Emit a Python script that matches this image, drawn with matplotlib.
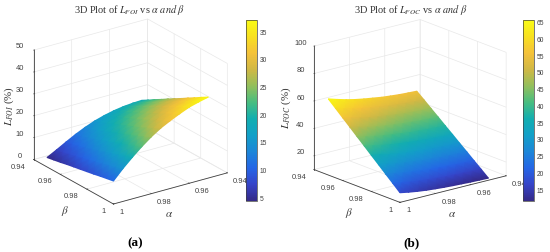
import matplotlib
matplotlib.use('Agg')
import matplotlib.pyplot as plt
import numpy as np
from matplotlib.colors import LinearSegmentedColormap
from matplotlib.cm import ScalarMappable
from matplotlib.colors import Normalize
from mpl_toolkits.mplot3d import proj3d

plt.rcParams['font.family'] = 'Liberation Sans'
plt.rcParams['mathtext.fontset'] = 'stix'

alpha = [1.0, 0.995, 0.99, 0.985, 0.98, 0.975, 0.97, 0.965, 0.96, 0.955, 0.95]
beta = [0.95, 0.955, 0.96, 0.965, 0.97, 0.975, 0.98, 0.985, 0.99, 0.995, 1.0]

# rows are beta, columns are alpha
l_foi = [
    [4.3, 6.6, 9.0, 11.3, 13.3, 15.0, 16.3, 17.3, 18.0, 18.4, 18.6],
    [4.9, 7.4, 9.9, 12.3, 14.5, 16.3, 17.7, 18.8, 19.7, 20.2, 20.4],
    [5.5, 8.2, 10.8, 13.4, 15.7, 17.6, 19.1, 20.4, 21.4, 22.0, 22.3],
    [6.2, 9.0, 11.8, 14.5, 17.0, 19.0, 20.6, 22.0, 23.1, 23.8, 24.1],
    [6.8, 9.9, 12.8, 15.6, 18.2, 20.3, 22.1, 23.5, 24.8, 25.5, 26.0],
    [7.4, 10.7, 13.8, 16.8, 19.4, 21.7, 23.5, 25.1, 26.5, 27.3, 27.8],
    [8.0, 11.6, 14.9, 18.0, 20.7, 23.0, 25.0, 26.7, 28.1, 29.0, 29.6],
    [8.6, 12.4, 15.9, 19.1, 22.0, 24.4, 26.5, 28.3, 29.8, 30.8, 31.5],
    [9.3, 13.3, 16.9, 20.3, 23.2, 25.8, 28.0, 29.9, 31.5, 32.5, 33.3],
    [9.9, 14.1, 18.0, 21.5, 24.6, 27.3, 29.5, 31.4, 33.2, 34.3, 35.2],
    [10.5, 15.0, 19.0, 22.7, 26.0, 28.8, 31.0, 33.0, 34.8, 36.0, 37.0],
]
l_foc = [
    [65.5, 63.5, 61.7, 60.2, 59.0, 58.0, 57.0, 56.3, 55.7, 55.3, 55.0],
    [60.7, 58.7, 57.0, 55.6, 54.4, 53.5, 52.6, 51.9, 51.3, 50.9, 50.7],
    [55.8, 54.0, 52.3, 51.0, 49.9, 49.0, 48.1, 47.5, 46.9, 46.6, 46.3],
    [51.0, 49.2, 47.6, 46.3, 45.3, 44.5, 43.7, 43.1, 42.6, 42.2, 42.0],
    [46.1, 44.4, 42.9, 41.7, 40.8, 40.0, 39.2, 38.7, 38.2, 37.9, 37.6],
    [41.3, 39.7, 38.3, 37.1, 36.2, 35.5, 34.8, 34.3, 33.8, 33.5, 33.3],
    [36.4, 34.9, 33.6, 32.5, 31.6, 30.9, 30.3, 29.8, 29.4, 29.1, 28.9],
    [31.6, 30.1, 28.9, 27.9, 27.1, 26.4, 25.9, 25.4, 25.0, 24.8, 24.6],
    [26.7, 25.3, 24.2, 23.2, 22.5, 21.9, 21.4, 21.0, 20.7, 20.4, 20.2],
    [21.9, 20.6, 19.5, 18.6, 18.0, 17.4, 17.0, 16.6, 16.3, 16.1, 15.9],
    [17.0, 15.8, 14.8, 14.0, 13.4, 12.9, 12.5, 12.2, 11.9, 11.7, 11.5],
]

xy_ticks = [0.94, 0.96, 0.98, 1]
xy_labels = ['0.94', '0.96', '0.98', '1']

parula = LinearSegmentedColormap.from_list('parula', [
    '#352a87', '#3644c8', '#2566e6', '#1c86d8', '#12a0c8', '#12aeb0',
    '#48bd80', '#93bf5c', '#d0b845', '#f5c23a', '#f8e020', '#f9fb15'])

W, H = 550, 253
GRAY = '#404040'
fig = plt.figure(figsize=(W / 100, H / 100), dpi=100)


def panel(z, rect, elev, azim, aspect, zlim, zticks, cb_rect, cb_ticks):
    ax = fig.add_axes(rect, projection='3d', proj_type='ortho')
    ax.patch.set_alpha(0)
    X, Y = np.meshgrid(alpha, beta)
    z = np.array(z)
    norm = Normalize(z.min(), z.max())
    ax.view_init(elev=elev, azim=azim)
    ax.set_box_aspect((1, 1, aspect), zoom=1.0)
    ax.set_xlim(0.94, 1)
    ax.set_ylim(0.94, 1)
    ax.set_zlim(*zlim)
    ax.set_xticks(xy_ticks, xy_labels)
    ax.set_yticks(xy_ticks, xy_labels)
    ax.set_zticks(zticks)
    for a in (ax.xaxis, ax.yaxis, ax.zaxis):
        a.set_pane_color((1, 1, 1, 0))
        a.pane.set_edgecolor('#e4e4e4')
        a.line.set_color(GRAY)
        a.line.set_linewidth(0.6)
        a._axinfo['grid']['color'] = '#e8e8e8'
        a._axinfo['grid']['linewidth'] = 0.5
        a._axinfo['tick']['inward_factor'] = 0.0
        a._axinfo['tick']['outward_factor'] = 0.1
        a._axinfo['tick']['linewidth'] = {True: 0.5, False: 0.5}
    ax.tick_params(labelsize=5.4, labelcolor=GRAY, color=GRAY, pad=-2)
    ax.zaxis.set_ticks_position('lower')
    for t in ax.yaxis.get_ticklabels():
        t.set_ha('right')
        t.set_va('bottom')
    for t in ax.xaxis.get_ticklabels():
        t.set_ha('left')
        t.set_va('bottom')
    for t in ax.zaxis.get_ticklabels():
        t.set_va('bottom')

    # mplot3d has no smooth shading, so project the table and let a gouraud mesh shade it
    px, py, _ = proj3d.proj_transform(X.ravel(), Y.ravel(), z.ravel(), ax.get_proj())
    over = fig.add_axes(rect, zorder=3)
    over.axis('off')
    over.pcolormesh(px.reshape(X.shape), py.reshape(X.shape), z, shading='gouraud',
                    cmap=parula, norm=norm, transform=ax.transData)

    cax = fig.add_axes(cb_rect)
    cb = fig.colorbar(ScalarMappable(norm, parula), cax=cax)
    cb.set_ticks(cb_ticks)
    cb.ax.tick_params(labelsize=4.8, labelcolor=GRAY, color=GRAY, length=0, pad=2)
    cb.outline.set_linewidth(0.5)
    cb.outline.set_edgecolor(GRAY)
    return ax


def rect(l, t, w, h):
    return [l / W, 1 - (t + h) / H, w / W, h / H]


panel(l_foi, rect(16, 4, 223, 223), 23, 55, 0.855, (0, 50), [0, 10, 20, 30, 40, 50],
      rect(246, 21, 11, 181), [5, 10, 15, 20, 25, 30, 35])
panel(l_foc, rect(294, 2, 226, 226), 18, 51, 0.95, (10, 100), [20, 40, 60, 80, 100],
      rect(523, 21, 11, 181), [15, 20, 25, 30, 35, 40, 45, 50, 55, 60, 65])


def label(x, y, s, size=7, rot=0, color='#333333', **kw):
    fig.text(x / W, 1 - y / H, s, fontsize=size, rotation=rot, color=color,
             ha='center', va='center', family='Liberation Serif', **kw)


label(130, 10, r'3D Plot of $L_{FOI}$ vs $\alpha$ $and$ $\beta$', 7.4)
label(411, 10, r'3D Plot of $L_{FOC}$ vs $\alpha$ $and$ $\beta$', 7.4)
label(9, 106, r'$L_{FOI}$ (%)', 7.8, 90)
label(286, 108, r'$L_{FOC}$ (%)', 7.8, 90)
label(65, 211, r'$\beta$', 8, color=GRAY)
label(169, 215, r'$\alpha$', 8, color=GRAY)
label(349, 213, r'$\beta$', 8, color=GRAY)
label(452, 215, r'$\alpha$', 8, color=GRAY)
label(135, 243, '(a)', 9.5, color='black', weight='bold')
label(412, 243, '(b)', 9.5, color='black', weight='bold')

fig.savefig('out.png', dpi=100)
